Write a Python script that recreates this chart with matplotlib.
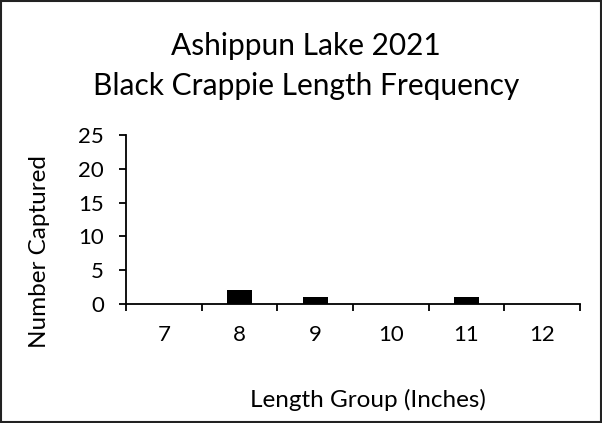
import numpy as np
import matplotlib
matplotlib.use("Agg")
import matplotlib.pyplot as plt
from matplotlib.patches import Rectangle

plt.rcParams['font.family'] = ['Lato', 'DejaVu Sans']

length_groups = ["7", "8", "9", "10", "11", "12"]
counts = [0, 2, 1, 0, 1, 0]
y_ticks = [0, 5, 10, 15, 20, 25]

W, H = 602, 423
fig = plt.figure(figsize=(W / 100, H / 100), dpi=100)
# plot area in pixels: x 126-580, y 135-304
ax = fig.add_axes([126 / W, 1 - 304 / H, (580 - 126) / W, (304 - 135) / H])

x = np.arange(len(length_groups))
ax.bar(x, counts, width=0.33, color="black")

ax.set_xlim(-0.5, len(length_groups) - 0.5)
ax.set_ylim(0, 25)
ax.set_yticks(y_ticks)
ax.set_xticks(x)
ax.set_xticklabels(length_groups)
ax.set_xticks(np.arange(-0.5, len(length_groups)), minor=True)
ax.tick_params(axis="x", which="major", length=0, pad=15, labelsize=16)
ax.tick_params(axis="x", which="minor", length=5, width=1.3, direction="out")
ax.tick_params(axis="y", length=5, width=1.3, labelsize=16, pad=11)

for s in ["top", "right"]:
    ax.spines[s].set_visible(False)
ax.spines["left"].set_linewidth(1.3)
ax.spines["bottom"].set_linewidth(1.3)

fig.text(40 / W, 1 - 252 / H, "Number Captured", rotation=90,
         ha="center", va="center", fontsize=17.5)
fig.text(368 / W, 1 - 407 / H, "Length Group (Inches)",
         ha="center", va="baseline", fontsize=17.5)

fig.text(306 / W, 1 - 55 / H, "Ashippun Lake 2021",
         ha="center", va="baseline", fontsize=21.5)
fig.text(306 / W, 1 - 95 / H, "Black Crappie Length Frequency",
         ha="center", va="baseline", fontsize=21.5)

fig.patches.append(Rectangle((1 / W, 1 / H), 1 - 2.5 / W, 1 - 2.5 / H,
                             transform=fig.transFigure, fill=False,
                             edgecolor="#222222", linewidth=1.5))

fig.savefig("out.png", dpi=100)
